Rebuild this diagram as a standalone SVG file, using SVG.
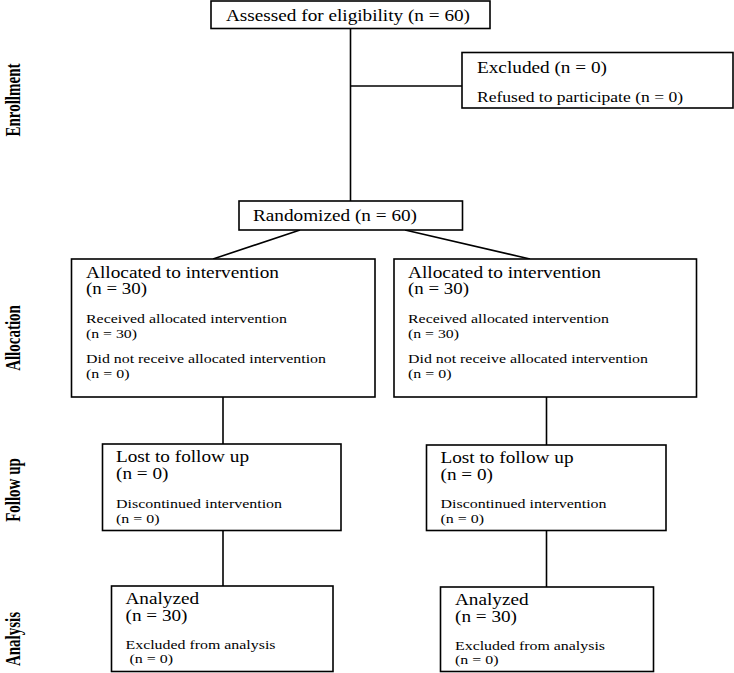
<svg xmlns="http://www.w3.org/2000/svg" width="734" height="673" viewBox="0 0 734 673">
<style>
.box{fill:#fff;stroke:#000;stroke-width:1.6}
.ln{fill:none;stroke:#000;stroke-width:1.6}
text{font-family:"Liberation Serif","Times New Roman",serif;fill:#000}
.L{font-size:16px}
.S{font-size:13px}
.R{font-size:14.6px}
.side{font-size:15px;font-weight:bold}
</style>
<rect width="734" height="673" fill="#fff"/>
<g id="connectors">
<line class="ln" x1="350.5" y1="28.5" x2="350.5" y2="201"/>
<line class="ln" x1="350.5" y1="86" x2="462" y2="86"/>
<line class="ln" x1="300" y1="230" x2="213" y2="259"/>
<line class="ln" x1="405" y1="230" x2="530" y2="259"/>
<line class="ln" x1="223" y1="397" x2="223" y2="444"/>
<line class="ln" x1="546.5" y1="397" x2="546.5" y2="445"/>
<line class="ln" x1="223" y1="530.5" x2="223" y2="586"/>
<line class="ln" x1="546.5" y1="530.5" x2="546.5" y2="587"/>
</g>
<g id="labels">
<text class="side" transform="translate(20,100) scale(1.35,1) rotate(-90)" text-anchor="middle">Enrollment</text>
<text class="side" transform="translate(20,338) scale(1.35,1) rotate(-90)" text-anchor="middle">Allocation</text>
<text class="side" transform="translate(20,490) scale(1.35,1) rotate(-90)" text-anchor="middle">Follow up</text>
<text class="side" transform="translate(20,639) scale(1.35,1) rotate(-90)" text-anchor="middle">Analysis</text>
</g>
<g id="assessed">
<rect class="box" x="211" y="1" width="279" height="27.5"/>
<text class="L" x="226" y="20.5" textLength="244" lengthAdjust="spacingAndGlyphs">Assessed for eligibility (n = 60)</text>
</g>
<g id="excluded">
<rect class="box" x="462" y="52.5" width="271" height="55.5"/>
<text class="L" x="477" y="72.5" textLength="130" lengthAdjust="spacingAndGlyphs">Excluded (n = 0)</text>
<text class="R" x="477" y="101.5" textLength="206" lengthAdjust="spacingAndGlyphs">Refused to participate (n = 0)</text>
</g>
<g id="randomized">
<rect class="box" x="239" y="201" width="223.5" height="29"/>
<text class="L" x="253" y="220.5" textLength="164" lengthAdjust="spacingAndGlyphs">Randomized (n = 60)</text>
</g>
<g id="alloc-left">
<rect class="box" x="71.5" y="259" width="303.5" height="138"/>
<text class="L" x="86" y="277.5" textLength="193" lengthAdjust="spacingAndGlyphs">Allocated to intervention</text>
<text class="L" x="86" y="294" textLength="61" lengthAdjust="spacingAndGlyphs">(n = 30)</text>
<text class="S" x="86" y="323" textLength="201" lengthAdjust="spacingAndGlyphs">Received allocated intervention</text>
<text class="S" x="86" y="337.5" textLength="51" lengthAdjust="spacingAndGlyphs">(n = 30)</text>
<text class="S" x="86" y="363" textLength="240" lengthAdjust="spacingAndGlyphs">Did not receive allocated intervention</text>
<text class="S" x="86" y="377.5" textLength="43.5" lengthAdjust="spacingAndGlyphs">(n = 0)</text>
</g>
<g id="alloc-right">
<rect class="box" x="394" y="259" width="302.5" height="138"/>
<text class="L" x="408" y="277.5" textLength="193" lengthAdjust="spacingAndGlyphs">Allocated to intervention</text>
<text class="L" x="408" y="294" textLength="61" lengthAdjust="spacingAndGlyphs">(n = 30)</text>
<text class="S" x="408" y="323" textLength="201" lengthAdjust="spacingAndGlyphs">Received allocated intervention</text>
<text class="S" x="408" y="337.5" textLength="51" lengthAdjust="spacingAndGlyphs">(n = 30)</text>
<text class="S" x="408" y="363" textLength="240" lengthAdjust="spacingAndGlyphs">Did not receive allocated intervention</text>
<text class="S" x="408" y="377.5" textLength="43.5" lengthAdjust="spacingAndGlyphs">(n = 0)</text>
</g>
<g id="follow-left">
<rect class="box" x="102.5" y="444" width="238.5" height="86.5"/>
<text class="L" x="116" y="462" textLength="133" lengthAdjust="spacingAndGlyphs">Lost to follow up</text>
<text class="L" x="116" y="479" textLength="52.4" lengthAdjust="spacingAndGlyphs">(n = 0)</text>
<text class="S" x="116" y="508" textLength="166" lengthAdjust="spacingAndGlyphs">Discontinued intervention</text>
<text class="S" x="116" y="522.5" textLength="43.5" lengthAdjust="spacingAndGlyphs">(n = 0)</text>
</g>
<g id="follow-right">
<rect class="box" x="426.5" y="445" width="239.5" height="85.5"/>
<text class="L" x="440.5" y="462.5" textLength="133" lengthAdjust="spacingAndGlyphs">Lost to follow up</text>
<text class="L" x="440.5" y="479.5" textLength="52.4" lengthAdjust="spacingAndGlyphs">(n = 0)</text>
<text class="S" x="440.5" y="508" textLength="166" lengthAdjust="spacingAndGlyphs">Discontinued intervention</text>
<text class="S" x="440.5" y="522.5" textLength="43.5" lengthAdjust="spacingAndGlyphs">(n = 0)</text>
</g>
<g id="analysis-left">
<rect class="box" x="111.5" y="586" width="221.5" height="85.5"/>
<text class="L" x="125.5" y="604" textLength="73.6" lengthAdjust="spacingAndGlyphs">Analyzed</text>
<text class="L" x="125.5" y="621" textLength="62" lengthAdjust="spacingAndGlyphs">(n = 30)</text>
<text class="S" x="125.5" y="649" textLength="150" lengthAdjust="spacingAndGlyphs">Excluded from analysis</text>
<text class="S" x="129.5" y="663" textLength="43.5" lengthAdjust="spacingAndGlyphs">(n = 0)</text>
</g>
<g id="analysis-right">
<rect class="box" x="440.5" y="587" width="213" height="84.5"/>
<text class="L" x="455" y="605" textLength="73.6" lengthAdjust="spacingAndGlyphs">Analyzed</text>
<text class="L" x="455" y="622" textLength="62" lengthAdjust="spacingAndGlyphs">(n = 30)</text>
<text class="S" x="455" y="649.5" textLength="150" lengthAdjust="spacingAndGlyphs">Excluded from analysis</text>
<text class="S" x="455" y="663.5" textLength="43.5" lengthAdjust="spacingAndGlyphs">(n = 0)</text>
</g>
</svg>
